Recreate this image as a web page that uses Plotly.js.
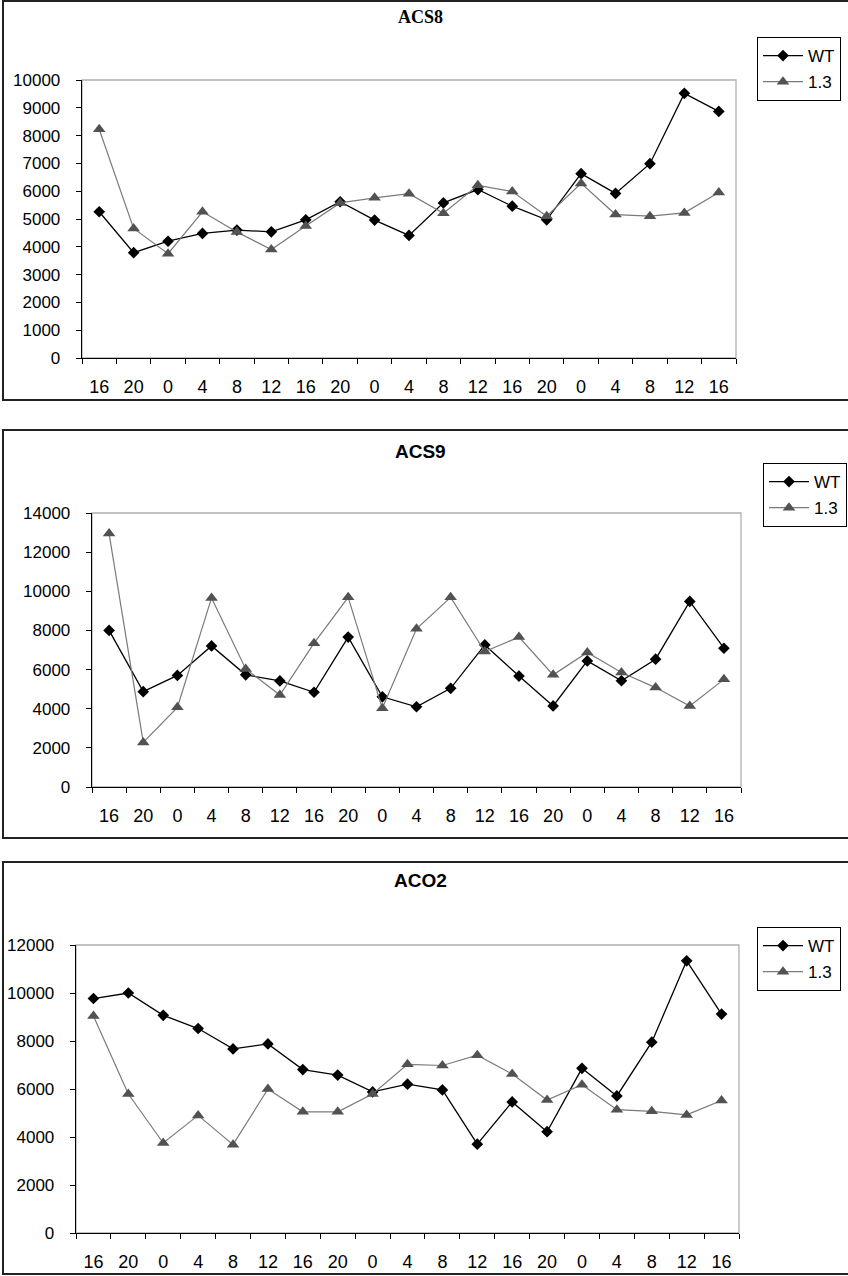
<!DOCTYPE html>
<html>
<head>
<meta charset="utf-8">
<script src="https://cdn.plot.ly/plotly-3.0.1.min.js"></script>
<style>
  html, body { margin: 0; padding: 0; background: #ffffff; }
  #chart { width: 848px; height: 1276px; }
</style>
</head>
<body>
<div id="chart"></div>
<script>
// Sampling times (h) shared by all three panels
const hours = [16, 20, 0, 4, 8, 12, 16, 20, 0, 4, 8, 12, 16, 20, 0, 4, 8, 12, 16];
const seriesNames = ["WT", "1.3"];

// ACS8 expression
const acs8Wt  = [5260, 3790, 4200, 4480, 4600, 4540, 4970, 5620, 4960, 4410, 5580, 6060, 5460, 4970, 6630, 5920, 6990, 9520, 8870];
const acs8L13 = [8230, 4660, 3750, 5260, 4530, 3900, 4750, 5580, 5760, 5910, 5210, 6210, 5990, 5100, 6280, 5160, 5100, 5220, 5950];

// ACS9 expression
const acs9Wt  = [8000, 4870, 5700, 7210, 5730, 5420, 4840, 7660, 4610, 4100, 5040, 7260, 5670, 4140, 6440, 5430, 6530, 9480, 7090];
const acs9L13 = [12950, 2280, 4070, 9660, 6030, 4700, 7350, 9690, 4020, 8080, 9690, 6920, 7660, 5730, 6870, 5850, 5080, 4140, 5500];

// ACO2 expression
const aco2Wt  = [9770, 10000, 9070, 8520, 7670, 7880, 6810, 6580, 5880, 6200, 5960, 3700, 5460, 4220, 6860, 5710, 7950, 11340, 9120];
const aco2L13 = [9040, 5790, 3750, 4900, 3680, 6000, 5050, 5050, 5790, 7030, 6980, 7410, 6620, 5540, 6180, 5140, 5070, 4920, 5520];

const W = 848, H = 1276;
const px = v => v / W;
const py = v => 1 - v / H;
const sans = '"Liberation Sans", Arial, sans-serif';
const serif = '"Liberation Serif", "Times New Roman", serif';

const idx = hours.map((_, i) => i);

// One panel per gene: plot box in pixels, frame, title and legend placement
const panels = [
  { name: "ACS8", wt: acs8Wt, l13: acs8L13, yMax: 10000, dtick: 1000,
    plot: { l: 82, r: 736, t: 80, b: 358 }, frame: { t: 1, b: 400 },
    title: { y: 17, font: serif, size: 18 }, legend: { x: 757, y: 37 } },
  { name: "ACS9", wt: acs9Wt, l13: acs9L13, yMax: 14000, dtick: 2000,
    plot: { l: 92, r: 741, t: 513, b: 787 }, frame: { t: 430, b: 838 },
    title: { y: 452, font: sans, size: 19 }, legend: { x: 763, y: 463 } },
  { name: "ACO2", wt: aco2Wt, l13: aco2L13, yMax: 12000, dtick: 2000,
    plot: { l: 76, r: 739, t: 945, b: 1233 }, frame: { t: 862, b: 1274 },
    title: { y: 880, font: sans, size: 19 }, legend: { x: 757, y: 927 } }
];

const data = [];
const layout = {
  width: W, height: H,
  margin: { l: 0, r: 0, t: 0, b: 0 },
  paper_bgcolor: "#ffffff", plot_bgcolor: "#ffffff",
  font: { family: sans, color: "#000000", size: 18 },
  shapes: [], annotations: []
};

panels.forEach((p, k) => {
  const n = k + 1;
  const xa = n === 1 ? "x" : "x" + n;
  const ya = n === 1 ? "y" : "y" + n;
  const lg = n === 1 ? "legend" : "legend" + n;

  data.push({
    x: idx, y: p.wt, xaxis: xa, yaxis: ya, legend: lg,
    name: seriesNames[0], legendgroup: "wt" + n,
    type: "scatter", mode: "lines+markers",
    line: { color: "#000000", width: 1.3 },
    marker: { symbol: "diamond", size: 9, color: "#000000" }
  });
  data.push({
    x: idx, y: p.l13, xaxis: xa, yaxis: ya, legend: lg,
    name: seriesNames[1], legendgroup: "l13" + n,
    type: "scatter", mode: "lines+markers",
    line: { color: "#7a7a7a", width: 1.2 },
    marker: { symbol: "triangle-up", size: 11, color: "#525252" }
  });

  layout["xaxis" + (n === 1 ? "" : n)] = {
    domain: [px(p.plot.l), px(p.plot.r)], anchor: ya,
    range: [-0.5, hours.length - 0.5], fixedrange: true,
    tickvals: idx, ticktext: hours.map(String),
    ticks: "outside", ticklen: 12, tickcolor: "rgba(0,0,0,0)",
    minor: { tick0: -0.5, dtick: 1, ticks: "outside", ticklen: 5, tickcolor: "#000000", tickwidth: 1 },
    showgrid: false, zeroline: false,
    showline: true, linecolor: "#000000", linewidth: 1.3,
    tickfont: { size: 18, family: sans }
  };
  layout["yaxis" + (n === 1 ? "" : n)] = {
    domain: [py(p.plot.b), py(p.plot.t)], anchor: xa,
    range: [0, p.yMax], dtick: p.dtick, tickformat: "d", fixedrange: true,
    ticks: "outside", ticklen: 5, tickcolor: "#000000", tickwidth: 1,
    ticklabelstandoff: 12,
    showgrid: false, zeroline: false,
    showline: true, linecolor: "#000000", linewidth: 1.3,
    tickfont: { size: 17, family: sans }
  };

  layout[lg] = {
    x: px(p.legend.x), y: py(p.legend.y), xanchor: "left", yanchor: "top",
    xref: "paper", yref: "paper",
    bgcolor: "#ffffff", bordercolor: "#000000", borderwidth: 1,
    font: { size: 17, family: sans },
    itemwidth: 40, tracegroupgap: 1, orientation: "v"
  };

  // light grey plot-area border (top and right show past the axes)
  layout.shapes.push({
    type: "rect", xref: xa + " domain", yref: ya + " domain",
    x0: 0, x1: 1, y0: 0, y1: 1, layer: "below",
    line: { color: "#b0b0b0", width: 1.3 }
  });
  // chart frame
  layout.shapes.push({
    type: "rect", xref: "paper", yref: "paper",
    x0: px(3), x1: px(870), y0: py(p.frame.b), y1: py(p.frame.t),
    line: { color: "#222222", width: 2 }
  });

  layout.annotations.push({
    text: "<b>" + p.name + "</b>", xref: "paper", yref: "paper",
    x: px(420), y: py(p.title.y), xanchor: "center", yanchor: "middle",
    showarrow: false, font: { family: p.title.font, size: p.title.size, color: "#000000" }
  });
});

Plotly.newPlot("chart", data, layout, { staticPlot: true, displayModeBar: false });
</script>
</body>
</html>
